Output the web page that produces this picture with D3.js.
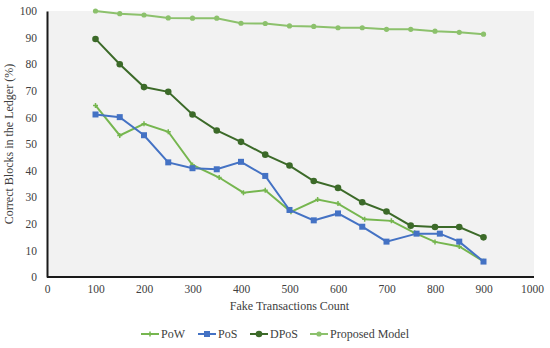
<!DOCTYPE html>
<html>
<head>
<meta charset="utf-8">
<script src="https://cdn.jsdelivr.net/npm/d3@7"></script>
<style>
  body { margin: 0; background: #fff; }
  svg { display: block; font-family: "Liberation Serif", "Times New Roman", serif; }
</style>
</head>
<body>
<svg width="550" height="348"></svg>
<script>
const seriesNames = ["PoW", "PoS", "DPoS", "Proposed Model"];

const powX = [100, 150, 200, 250, 300, 355, 405, 450, 503, 558, 600, 655, 710, 758, 800, 850, 900];
const powY = [64.5, 53.2, 57.6, 54.6, 42.1, 37.4, 31.7, 32.6, 24.5, 29.1, 27.6, 21.7, 21.1, 16.6, 13.2, 11.5, 5.9];

const posX = [100, 150, 200, 250, 300, 350, 400, 450, 500, 550, 600, 650, 700, 762, 810, 850, 900];
const posY = [61.1, 60.1, 53.3, 43.1, 40.9, 40.5, 43.3, 38.0, 25.2, 21.3, 23.9, 18.9, 13.3, 16.3, 16.3, 13.3, 5.8];

const dposX = [100, 150, 200, 250, 300, 350, 400, 450, 500, 550, 600, 650, 700, 750, 800, 850, 900];
const dposY = [89.5, 80.0, 71.4, 69.6, 61.1, 55.1, 50.8, 46.0, 41.9, 36.1, 33.5, 28.1, 24.6, 19.3, 18.8, 18.8, 14.9];

const propX = [100, 150, 200, 250, 300, 350, 400, 450, 500, 550, 600, 650, 700, 750, 800, 850, 900];
const propY = [100, 99.0, 98.5, 97.4, 97.3, 97.3, 95.4, 95.3, 94.4, 94.2, 93.7, 93.7, 93.1, 93.1, 92.4, 92.0, 91.3];

const xTicks = [0, 100, 200, 300, 400, 500, 600, 700, 800, 900, 1000];
const yTicks = [0, 10, 20, 30, 40, 50, 60, 70, 80, 90, 100];

const colors = ["#76b64f", "#4472c4", "#3c6a29", "#8cc16c"];
const markers = ["plus", "square", "circle", "dot"];

const margin = { top: 11, right: 18, bottom: 71, left: 47 };
const width = 550;
const height = 348;

const xScale = d3.scaleLinear().domain([0, 1000]).range([margin.left, width - margin.right]);
const yScale = d3.scaleLinear().domain([0, 100]).range([height - margin.bottom, margin.top]);

const data = [
  { name: seriesNames[0], x: powX, y: powY },
  { name: seriesNames[1], x: posX, y: posY },
  { name: seriesNames[2], x: dposX, y: dposY },
  { name: seriesNames[3], x: propX, y: propY }
].map((s, i) => ({
  name: s.name,
  color: colors[i],
  marker: markers[i],
  points: s.x.map((v, j) => ({ x: v, y: s.y[j] }))
}));

const svg = d3.select("svg");

// plot background
svg.append("rect")
  .attr("x", xScale(0))
  .attr("y", yScale(100))
  .attr("width", xScale(1000) - xScale(0) + 2)
  .attr("height", yScale(0) - yScale(100))
  .attr("fill", "#f2f2f2");

// axes
const xAxis = d3.axisBottom(xScale).tickValues(xTicks).tickFormat(d3.format("d")).tickSize(0).tickPadding(8);
const yAxis = d3.axisLeft(yScale).tickValues(yTicks).tickFormat(d3.format("d")).tickSize(0).tickPadding(10);

const gx = svg.append("g")
  .attr("transform", `translate(0, ${yScale(0)})`)
  .call(xAxis);
const gy = svg.append("g")
  .attr("transform", `translate(${xScale(0)}, 0)`)
  .call(yAxis);

[gx, gy].forEach(g => {
  g.select(".domain").attr("stroke", "#1a1a1a").attr("stroke-width", 2);
  g.selectAll("text")
    .attr("fill", "#404040")
    .style("font-size", "11.5px")
    .style("font-family", "'Liberation Serif', serif");
});
gx.select(".domain").attr("d", `M${xScale(0)},0H${xScale(1000) + 2}`);

// axis titles
svg.append("text")
  .attr("x", (xScale(0) + xScale(1000)) / 2)
  .attr("y", 310)
  .attr("text-anchor", "middle")
  .attr("fill", "#404040")
  .style("font-size", "12px")
  .text("Fake Transactions Count");

svg.append("text")
  .attr("transform", `translate(13, ${(yScale(0) + yScale(100)) / 2}) rotate(-90)`)
  .attr("text-anchor", "middle")
  .attr("fill", "#404040")
  .style("font-size", "12px")
  .text("Correct Blocks in the Ledger (%)");

// lines
const line = d3.line().x(d => xScale(d.x)).y(d => yScale(d.y));

function drawMarker(g, type, color, cx, cy) {
  if (type === "square") {
    g.append("rect").attr("x", cx - 3).attr("y", cy - 3).attr("width", 6).attr("height", 6).attr("fill", color);
  } else if (type === "circle") {
    g.append("circle").attr("cx", cx).attr("cy", cy).attr("r", 3.3).attr("fill", color);
  } else if (type === "dot") {
    g.append("circle").attr("cx", cx).attr("cy", cy).attr("r", 2.6).attr("fill", color);
  } else {
    g.append("path")
      .attr("d", `M${cx - 2.5},${cy}H${cx + 2.5}M${cx},${cy - 2.5}V${cy + 2.5}`)
      .attr("stroke", color).attr("stroke-width", 1.5);
  }
}

data.forEach(s => {
  const g = svg.append("g");
  g.append("path")
    .attr("d", line(s.points))
    .attr("fill", "none")
    .attr("stroke", s.color)
    .attr("stroke-width", 2);
  s.points.forEach(p => drawMarker(g, s.marker, s.color, xScale(p.x), yScale(p.y)));
});

// legend
const legendX = [141, 198, 250, 310];
const legend = svg.append("g");
data.forEach((s, i) => {
  const lx = legendX[i];
  const ly = 334;
  legend.append("line")
    .attr("x1", lx).attr("x2", lx + 18)
    .attr("y1", ly).attr("y2", ly)
    .attr("stroke", s.color).attr("stroke-width", 2);
  drawMarker(legend, s.marker, s.color, lx + 9, ly);
  legend.append("text")
    .attr("x", lx + 20)
    .attr("y", ly)
    .attr("dy", "0.35em")
    .attr("fill", "#404040")
    .style("font-size", "12px")
    .text(s.name);
});
</script>
</body>
</html>
